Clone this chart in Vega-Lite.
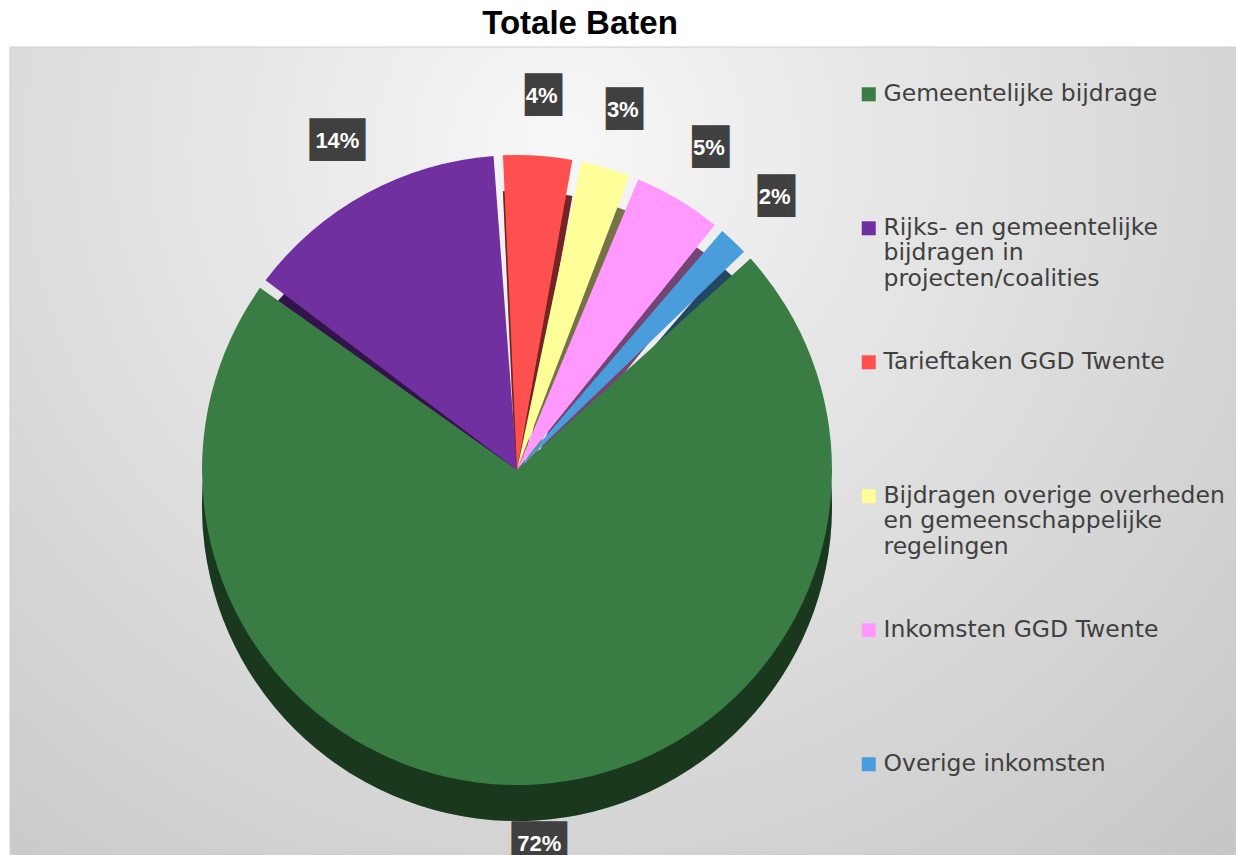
{
  "$schema": "https://vega.github.io/schema/vega-lite/v6.json",
  "width": 1226,
  "height": 808,
  "autosize": {"type": "none"},
  "padding": {"left": 10, "top": 47, "right": 0, "bottom": 0},
  "background": "white",
  "title": {
    "text": "Totale Baten",
    "font": "Liberation Sans",
    "fontSize": 33,
    "fontWeight": "bold",
    "color": "#000000",
    "anchor": "middle",
    "dx": -43,
    "offset": -27,
    "baseline": "bottom"
  },
  "config": {
    "view": {"stroke": null}
  },
  "layer": [
    {
      "data": {"values": [{"bg": 1}]},
      "mark": {
        "type": "rect",
        "stroke": "#cfcfcf",
        "strokeWidth": 1,
        "fill": {
          "gradient": "radial",
          "x1": 0.45, "y1": 0.25, "r1": 0,
          "x2": 0.45, "y2": 0.25, "r2": 0.8,
          "stops": [
            {"offset": 0, "color": "#f7f7f7"},
            {"offset": 1, "color": "#c6c6c6"}
          ]
        }
      },
      "encoding": {}
    },
    {
      "data": {
        "values": [
          {"idx": 1, "cat": "Gemeentelijke bijdrage", "pct": 0.72},
          {"idx": 2, "cat": "Rijks- en gemeentelijke bijdragen in projecten/coalities", "pct": 0.14},
          {"idx": 3, "cat": "Tarieftaken GGD Twente", "pct": 0.04},
          {"idx": 4, "cat": "Bijdragen overige overheden en gemeenschappelijke regelingen", "pct": 0.03},
          {"idx": 5, "cat": "Inkomsten GGD Twente", "pct": 0.05},
          {"idx": 6, "cat": "Overige inkomsten", "pct": 0.02}
        ]
      },
      "encoding": {
        "theta": {"field": "pct", "type": "quantitative", "stack": true, "scale": {"range": [0.82, 7.1032]}},
        "order": {"field": "idx", "type": "quantitative"},
        "color": {
          "field": "cat",
          "type": "nominal",
          "scale": {
            "domain": [
              "Gemeentelijke bijdrage",
              "Rijks- en gemeentelijke bijdragen in projecten/coalities",
              "Tarieftaken GGD Twente",
              "Bijdragen overige overheden en gemeenschappelijke regelingen",
              "Inkomsten GGD Twente",
              "Overige inkomsten"
            ],
            "range": ["#3a7d44", "#7030a0", "#ff5050", "#ffff99", "#ff99ff", "#4a9ddb"]
          },
          "legend": {
            "orient": "none",
            "legendX": 847,
            "legendY": 23,
            "title": null,
            "symbolType": "M-1,0.79H1V2.79H-1Z",
            "symbolSize": 196,
            "symbolStrokeWidth": 0,
            "labelFont": "DejaVu Sans",
            "labelFontSize": 23.5,
            "labelColor": "#404040",
            "labelLimit": 420,
            "labelOffset": 3,
            "labelBaseline": "top",
            "gridAlign": "all",
            "rowPadding": 47,
            "labelExpr": "datum.label == 'Rijks- en gemeentelijke bijdragen in projecten/coalities' ? ['Rijks- en gemeentelijke', 'bijdragen in', 'projecten/coalities'] : datum.label == 'Bijdragen overige overheden en gemeenschappelijke regelingen' ? ['Bijdragen overige overheden', 'en gemeenschappelijke', 'regelingen'] : datum.label"
          }
        }
      },
      "layer": [
        {"mark": {"type": "arc", "outerRadius": 315, "xOffset": -106, "yOffset": 55, "padAngle": 0.03}},
        {
          "mark": {"type": "arc", "outerRadius": 315, "xOffset": -106, "yOffset": 55, "padAngle": 0.03, "opacity": 0.55},
          "encoding": {"color": {"value": "#000000"}}
        },
        {"mark": {"type": "arc", "outerRadius": 315, "xOffset": -106, "yOffset": 19, "padAngle": 0.03}},
        {
          "mark": {"type": "text", "radius": 375, "xOffset": -106, "yOffset": 19, "font": "DejaVu Sans", "fontSize": 36, "baseline": "middle", "align": "center"},
          "encoding": {
            "text": {"condition": {"test": "datum.pct >= 0.1", "value": "██"}, "value": "▕█▎"},
            "color": {"value": "#404040"}
          }
        },
        {
          "mark": {"type": "text", "radius": 375, "xOffset": -106, "yOffset": 19, "font": "Liberation Sans", "fontWeight": "bold", "fontSize": 22, "baseline": "middle", "align": "center"},
          "encoding": {
            "text": {"field": "pct", "type": "quantitative", "format": ".0%"},
            "color": {"value": "#ffffff"}
          }
        }
      ]
    }
  ]
}
